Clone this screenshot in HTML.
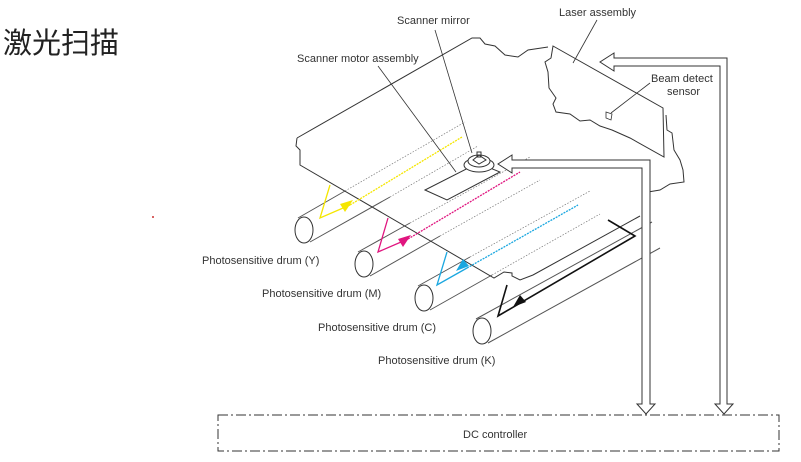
<!DOCTYPE html>
<html><head><meta charset="utf-8"><style>
html,body{margin:0;padding:0;background:#fff;}
svg{display:block;}
text{font-family:"Liberation Sans",Arial,sans-serif;font-size:11px;fill:#333;}
</style></head><body>
<svg width="801" height="462" viewBox="0 0 801 462">
<text x="3" y="53" style="font-family:'Liberation Sans','Noto Sans CJK SC',sans-serif;font-size:29px;fill:#222">激光扫描</text>
<circle cx="153" cy="217" r="1" fill="#c33"/>

<g fill="none" stroke="#333" stroke-width="1">
  <g>
    <path d="M298,218 L345,191 M310,242 L390,197" stroke="#555"/>
    <ellipse cx="304" cy="230" rx="9" ry="13" fill="#fff"/>
    <path d="M345,191 L465,122 M390,197 L478,146" stroke="#777" stroke-dasharray="1.5,1.5" stroke-width="0.7"/>
  </g>
  <g>
    <path d="M358,252 L410,223 M370,276 L440,236" stroke="#555"/>
    <ellipse cx="364" cy="264" rx="9" ry="13" fill="#fff"/>
    <path d="M410,223 L530,157 M440,236 L540,180" stroke="#777" stroke-dasharray="1.5,1.5" stroke-width="0.7"/>
  </g>
  <g>
    <path d="M418,286 L470,257 M430,310 L492,275" stroke="#555"/>
    <ellipse cx="424" cy="298" rx="9" ry="13" fill="#fff"/>
    <path d="M470,257 L590,191 M492,275 L600,214" stroke="#777" stroke-dasharray="1.5,1.5" stroke-width="0.7"/>
  </g>
  <g>
    <path d="M476,319 L652,222 M488,343 L660,248" stroke="#555"/>
    <ellipse cx="482" cy="331" rx="9" ry="13" fill="#fff"/>
  </g>
</g>

<g fill="none" stroke="#333" stroke-width="1">
  <path d="M297,138 L472,38 L480,38 L485,44 L495,46 L505,55 L518,57 L528,50 L548,47"/>
  <path d="M297,138 L296,146 L300,150 L300,165 L494,278 L504,272 L512,273 L512,276 L520,280 L533,275 L640,216"/>
  <path d="M666,115 L667,130 L672,133 L674,150 L680,160 L683,170 L684,182 L670,184 L660,190 L648,192"/>
  <path d="M425,190 L447,200 L500,172 L478,163 Z" fill="#fff"/>
  <ellipse cx="479" cy="165" rx="15" ry="7" fill="#fff"/>
  <ellipse cx="479" cy="161" rx="11" ry="6" fill="#fff"/>
  <path d="M473,160 L479,155 L486,160 L479,164 Z"/>
  <rect x="477" y="152" width="4" height="5"/>
</g>

<path d="M553,46 L663,108 L664,157 L630,138 L612,130 L600,126 L590,120 L580,121 L570,114 L556,112 L553,104 L556,98 L549,88 L548,72 L545,62 L551,58 Z" fill="#fff" stroke="#333" stroke-width="1"/>
<path d="M606,112 L612,114 L611,120 L606,118 Z" fill="none" stroke="#333" stroke-width="0.8"/>

<g fill="none" stroke-width="1.3">
  <path d="M330,185 L320,218 L350,205" stroke="#f5e600"/>
  <path d="M350,205 L462,137" stroke="#f5e600" stroke-dasharray="2,1"/>
  <path d="M388,218 L378,252 L408,239" stroke="#e0157f"/>
  <path d="M408,239 L520,172" stroke="#e0157f" stroke-dasharray="2,1"/>
  <path d="M447,252 L437,285 L467,268" stroke="#1aa7e0"/>
  <path d="M467,268 L578,205" stroke="#1aa7e0" stroke-dasharray="2,1"/>
  <path d="M608,220 L635,236 L498,316 L507,285" stroke="#111" stroke-width="1.6"/>
  <polygon points="353,200 340,204 345,212" fill="#f5e600" stroke="none"/>
  <polygon points="411,235 398,239 403,247" fill="#e0157f" stroke="none"/>
  <polygon points="456,271 469,266 463,259" fill="#1aa7e0" stroke="none"/>
  <polygon points="513,307 526,302 520,295" fill="#111" stroke="none"/>
</g>

<g stroke="#333" stroke-width="0.8">
  <line x1="378" y1="66" x2="456" y2="172"/>
  <line x1="435" y1="30" x2="472" y2="153"/>
  <line x1="597" y1="20" x2="573" y2="63"/>
  <line x1="650" y1="83" x2="611" y2="113"/>
</g>

<g fill="#fff" stroke="#333" stroke-width="1">
  <path d="M642,404 L642,168 L512,168 L512,173 L498,164 L512,155 L512,160 L650,160 L650,404 L655,404 L646,414 L637,404 Z"/>
  <path d="M720,404 L720,66 L614,66 L614,71 L600,62 L614,53 L614,58 L727,58 L727,404 L733,404 L724,414 L715,404 Z"/>
</g>

<rect x="218" y="415" width="561" height="36" fill="none" stroke="#333" stroke-width="1" stroke-dasharray="10,3,2,3"/>
<text x="463" y="438">DC controller</text>

<text x="397" y="24">Scanner mirror</text>
<text x="297" y="62">Scanner motor assembly</text>
<text x="559" y="16">Laser assembly</text>
<text x="651" y="82">Beam detect</text>
<text x="667" y="95">sensor</text>
<text x="202" y="264">Photosensitive drum (Y)</text>
<text x="262" y="297">Photosensitive drum (M)</text>
<text x="318" y="331">Photosensitive drum (C)</text>
<text x="378" y="364">Photosensitive drum (K)</text>
</svg>
</body></html>
